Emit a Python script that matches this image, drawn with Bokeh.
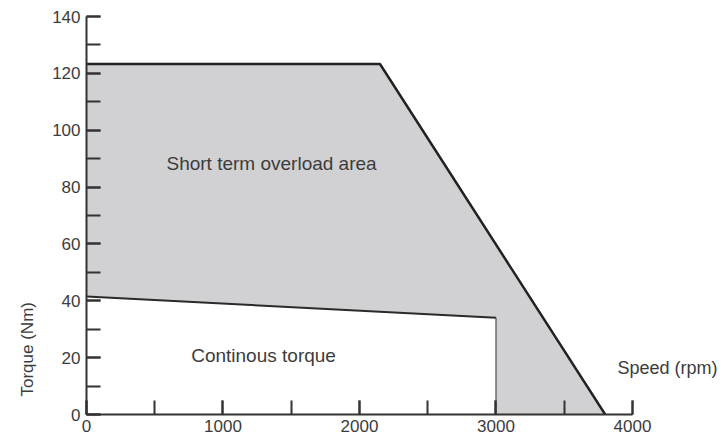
from bokeh.plotting import figure
from bokeh.models import Range1d, SingleIntervalTicker, Label, Title
from bokeh.embed import file_html
from bokeh.resources import INLINE

# Data
overload_speed = [0, 2150, 3800]
overload_torque = [123.3, 123.3, 0]
cont_speed = [0, 3000]
cont_torque = [41.5, 34]
cont_end_speed = [3000, 3000]
cont_end_torque = [34, 0]
area_speed = [0, 2150, 3800, 3000, 3000, 0]
area_torque = [123.3, 123.3, 0, 0, 34, 41.5]

x_ticks_major = 1000
y_ticks_major = 20

FONT = "Liberation Sans"
TXT = "#3c3c3c"

p = figure(width=724, height=436, output_backend="svg", toolbar_location=None,
           x_range=Range1d(0, 4674), y_range=Range1d(0, 140),
           min_border_left=86, min_border_right=0, min_border_top=16, min_border_bottom=22)
p.outline_line_color = None
p.xgrid.visible = False
p.ygrid.visible = False
p.background_fill_color = "white"

p.patch(area_speed, area_torque, fill_color="#d1d1d3", line_color=None)
p.line(overload_speed, overload_torque, line_color="#222222", line_width=2.5)
p.line(cont_speed, cont_torque, line_color="#2a2a2a", line_width=2)
p.line(cont_end_speed, cont_end_torque, line_color="#555555", line_width=1.3)

for ax in (p.xaxis[0], p.yaxis[0]):
    ax.axis_line_width = 2
    ax.axis_line_color = "#333333"
    ax.major_tick_in = 14
    ax.major_tick_out = 0
    ax.minor_tick_in = 14
    ax.minor_tick_out = 0
    ax.major_tick_line_width = 2
    ax.minor_tick_line_width = 2
    ax.major_tick_line_color = "#333333"
    ax.minor_tick_line_color = "#333333"
    ax.major_label_text_font = FONT
    ax.major_label_text_font_size = "17px"
    ax.major_label_text_color = TXT
    ax.major_label_standoff = 6

p.xaxis[0].ticker = SingleIntervalTicker(interval=x_ticks_major, num_minor_ticks=2)
p.yaxis[0].ticker = SingleIntervalTicker(interval=y_ticks_major, num_minor_ticks=2)
p.xaxis[0].bounds = (0, 4000)
p.yaxis[0].bounds = (0, 140)
p.xaxis[0].major_label_standoff = 5

# y-axis title, placed low like the reference
p.add_layout(Title(text="Torque (Nm)", align="left", offset=18, standoff=21,
                   vertical_align="top",
                   text_font=FONT, text_font_size="17px", text_font_style="normal",
                   text_color=TXT), "left")

def lab(text, x, y, size, align="left"):
    p.add_layout(Label(x=x, y=y, text=text, text_font=FONT, text_font_size=size,
                       text_color=TXT, text_align=align, text_baseline="middle"))

lab("Short term overload area", 586, 88.3, "19px")
lab("Continous torque", 767, 20.8, "19px")
lab("Speed (rpm)", 3890, 16.5, "18px")

open("out.html", "w").write(file_html(p, INLINE))
